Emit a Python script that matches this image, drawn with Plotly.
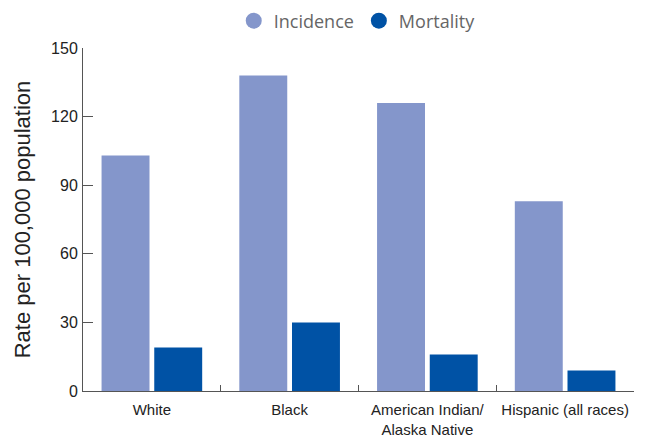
import plotly.graph_objects as go

groups = ["White", "Black", "American Indian/<br>Alaska Native", "Hispanic (all races)"]
incidence = [103, 138, 126, 83]
mortality = [19, 30, 16, 9]
y_ticks = [0, 30, 60, 90, 120, 150]

inc_color = "#8496CB"
mort_color = "#0052A5"
axis_color = "#555555"
x_font = dict(family="Liberation Sans, Arial", size=15, color="#222222")
y_font = dict(family="Liberation Sans, Arial", size=16, color="#222222")

fig = go.Figure()
fig.add_trace(go.Bar(x=groups, y=incidence, name="Incidence", marker=dict(color=inc_color, line=dict(width=0)), showlegend=False))
fig.add_trace(go.Bar(x=groups, y=mortality, name="Mortality", marker=dict(color=mort_color, line=dict(width=0)), showlegend=False))

# circular legend swatches
for name, col in [("Incidence", inc_color), ("Mortality", mort_color)]:
    fig.add_trace(go.Scatter(x=[None], y=[None], mode="markers", name=name,
                             marker=dict(symbol="circle", size=17, color=col)))

fig.update_layout(
    width=646, height=440,
    margin=dict(l=83, r=12, t=48, b=49),
    plot_bgcolor="white", paper_bgcolor="white",
    barmode="group", bargap=0.235, bargroupgap=0.09,
    legend=dict(orientation="h", xref="container", yref="container",
                x=0.553, xanchor="center", y=1 - 21 / 440, yanchor="middle",
                font=dict(family="Open Sans, sans-serif", size=18, color="#666666"),
                itemwidth=30, traceorder="normal"),
    yaxis=dict(range=[0, 150], tickvals=y_ticks, ticks="inside", ticklen=10, tickcolor=axis_color,
               showline=True, linecolor=axis_color, linewidth=1, showgrid=False, zeroline=False,
               tickfont=y_font, automargin=False, ticklabelstandoff=1,
               title=dict(text="Rate per 100,000 population",
                          font=dict(family="Liberation Sans, Arial", size=22, color="#222222"),
                          standoff=14)),
    xaxis=dict(ticks="inside", tickson="boundaries", ticklen=6, tickcolor=axis_color,
               showline=True, linecolor=axis_color, linewidth=1, showgrid=False,
               tickfont=x_font, tickangle=0, automargin=False, ticklabelstandoff=5),
)

fig.write_html("out.html")
